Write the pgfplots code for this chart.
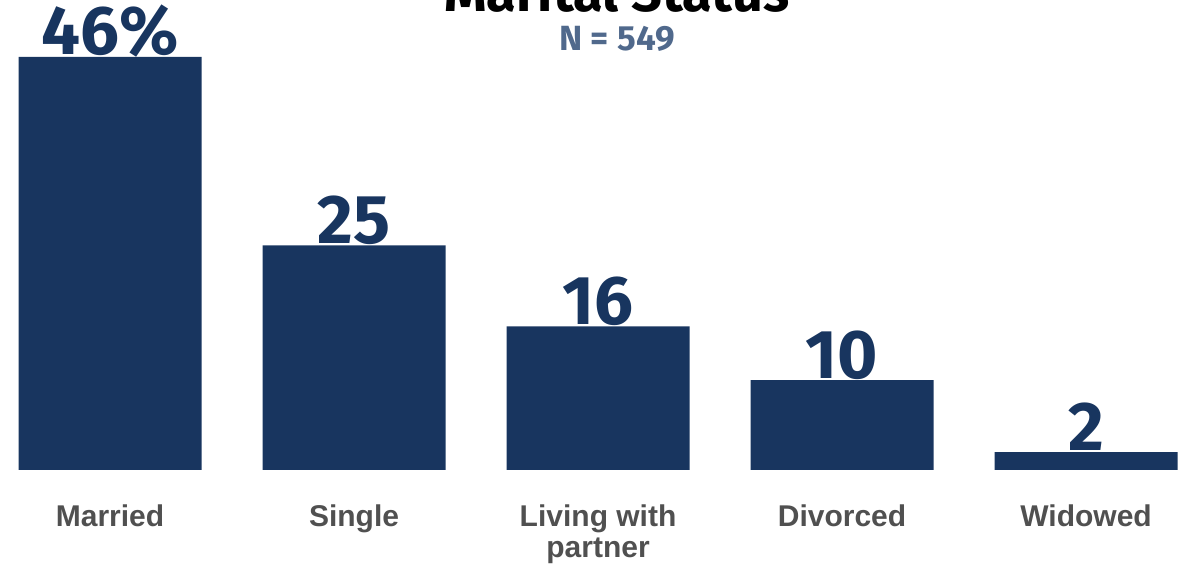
\documentclass[border=0pt]{standalone}
\usepackage{fontspec}
\setmainfont{Liberation Sans}
\newfontfamily\numfont{Fira Sans}
\usepackage{pgfplots}
\pgfplotsset{compat=1.18}
\definecolor{navy}{HTML}{18355F}
\definecolor{ngray}{HTML}{50698C}
\definecolor{lgray}{HTML}{505050}
\begin{document}
\begin{tikzpicture}
\begin{axis}[
  at={(0,0)}, anchor=south west,
  scale only axis, width=595.5pt, height=235pt,
  xmin=-0.451, xmax=4.430, ymin=0, ymax=52.34,
  axis x line=bottom, axis y line=none,
  x axis line style={draw=none},
  major tick length=0pt, ytick=\empty,
  xtick={0,1,2,3,4},
  xticklabels={Married,Single,{\begin{tabular}[t]{@{}c@{}}Living with\\partner\end{tabular}},Divorced,Widowed},
  xticklabel style={font=\bfseries\fontsize{15}{15.5}\selectfont, text=lgray, anchor=base, yshift=-28.5pt},
  ybar, bar width=91.5pt,
  point meta=explicit symbolic,
  nodes near coords,
  nodes near coords style={font=\numfont\bfseries\fontsize{34.5}{34.5}\selectfont, text=navy, anchor=base, inner sep=0pt, yshift=1pt},
  clip=false,
]
\addplot[fill=navy, draw=none] coordinates {(0,46) [46\%] (1,25) [25] (2,16) [16] (3,10) [10] (4,2) [2]};
\end{axis}
\node[font=\numfont\bfseries\fontsize{27}{27}\selectfont, anchor=base] at (308.5pt,229pt) {Marital Status};
\node[font=\numfont\bfseries\fontsize{17.5}{17.5}\selectfont, text=ngray, anchor=base] at (308.5pt,209.5pt) {N = 549};
\pgfresetboundingbox
\path[use as bounding box] (0,-48.5pt) rectangle (595.5pt,235pt);
\end{tikzpicture}
\end{document}
